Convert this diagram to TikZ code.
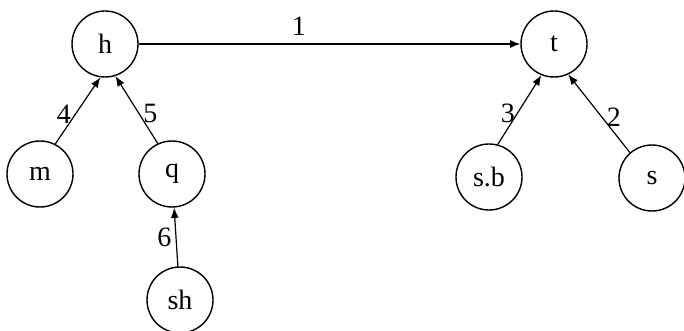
\documentclass[tikz,border=0pt]{standalone}
\usepackage{fontspec}
\setmainfont{Liberation Serif}
\usepackage{tikz}
\usetikzlibrary{arrows.meta,positioning}

\begin{document}
\begin{tikzpicture}[
  x=0.5pt,y=-0.5pt,
  vert/.style={draw,circle,minimum size=33pt,inner sep=0pt,line width=0.7pt,font=\fontsize{14}{16}\selectfont},
  arr/.style={-{Latex[length=1.8mm,width=1.4mm]},line width=0.6pt},
  lbl/.style={font=\fontsize{14}{16}\selectfont,inner sep=1pt}
]
\useasboundingbox (0,0) rectangle (684,331);
\node[vert] (h) at (105,44) {h};
\node[vert] (t) at (554,44) {t};
\node[vert] (m) at (40,174) {m};
\node[vert] (q) at (172,174) {q};
\node[vert] (sh) at (180,300) {sh};
\node[vert] (sb) at (489,177) {s.b};
\node[vert] (s) at (652,178) {s};
\draw[arr] (h) -- node[lbl,above=3pt,pos=0.42] {1} (t);
\draw[arr] (m.63) -- node[lbl,left=1pt,pos=0.45] {4} (h.-98);
\draw[arr] (q.115) -- node[lbl,right=1pt,pos=0.45] {5} (h.-72);
\draw[arr] (sh) -- node[lbl,left=1pt] {6} (q);
\draw[arr] (sb.75) -- node[lbl,left=0pt,pos=0.45] {3} (t.-112);
\draw[arr] (s.131) -- node[lbl,right=1pt,pos=0.45] {2} (t.-65);
\end{tikzpicture}
\end{document}
